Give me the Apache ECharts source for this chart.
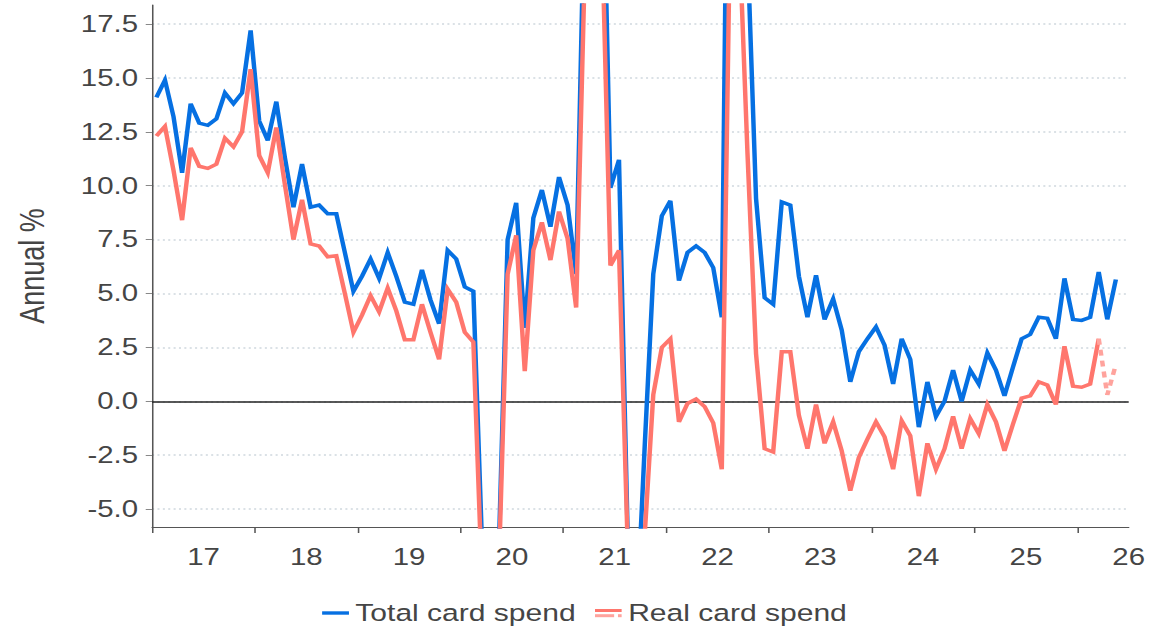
<!DOCTYPE html>
<html>
<head>
<meta charset="utf-8">
<script src="https://cdn.jsdelivr.net/npm/echarts@6/dist/echarts.min.js"></script>
<style>
  html, body { margin: 0; padding: 0; background: #ffffff; overflow: hidden; }
  #chart { width: 920px; height: 632px; transform: scaleX(1.27826); transform-origin: 0 0; }
</style>
</head>
<body>
<div id="chart"></div>
<script>
// Monthly data, first point = January 2017 (month index 0)
const yearLabels = ['17', '18', '19', '20', '21', '22', '23', '24', '25', '26'];
const yTickValues = [-5, -2.5, 0, 2.5, 5, 7.5, 10, 12.5, 15, 17.5];

const totalCardSpend = [
  14.1, 14.9, 13.2, 10.6, 13.8, 12.9, 12.8, 13.1, 14.3, 13.8, 14.3, 17.2,
  13.0, 12.1, 13.9, 11.3, 9.0, 11.0, 9.0, 9.1, 8.7, 8.7, 6.9, 5.1,
  5.8, 6.6, 5.7, 6.9, 5.8, 4.6, 4.5, 6.1, 4.7, 3.6, 7.0, 6.6,
  5.3, 5.1, -6.5, -20.0, -6.5, 7.5, 9.2, 3.4, 8.5, 9.8, 8.1, 10.4,
  9.1, 5.9, 24.0, 40.0, 28.0, 9.9, 11.2, -6.0, -10.6, -2.1, 5.9, 8.6,
  9.3, 5.6, 6.9, 7.2, 6.9, 6.2, 3.9, 40.0, 35.0, 21.0, 9.4, 4.8,
  4.5, 9.25, 9.1, 5.8, 3.9, 5.85, 3.8, 4.75, 3.3, 0.9, 2.3, 2.9,
  3.45, 2.6, 0.8, 2.9, 1.95, -1.2, 0.9, -0.7, 0.0, 1.45, 0.0, 1.45,
  0.8, 2.25, 1.45, 0.25, 1.6, 2.9, 3.1, 3.9, 3.85, 2.9, 5.7, 3.8,
  3.75, 3.9, 6.0, 3.8, 5.65
];

const realCardSpend = [
  12.3, 12.75, 10.7, 8.4, 11.75, 10.9, 10.8, 11.0, 12.2, 11.8, 12.5, 15.4,
  11.4, 10.6, 12.7, 10.05, 7.5, 9.35, 7.3, 7.2, 6.7, 6.75, 5.0, 3.2,
  4.0, 4.9, 4.15, 5.25, 4.2, 2.85, 2.85, 4.5, 3.2, 1.95, 5.2, 4.6,
  3.2, 2.75, -8.3, -20.0, -7.4, 5.9, 7.7, 1.4, 7.0, 8.3, 6.55, 8.8,
  7.55, 4.35, 20.0, 35.0, 22.0, 6.3, 7.0, -6.5, -12.0, -6.2, 0.3, 2.5,
  2.9, -0.95, -0.1, 0.1, -0.25, -1.0, -3.15, 23.0, 22.0, 11.5, 2.2, -2.2,
  -2.35, 2.3, 2.3, -0.65, -2.2, -0.15, -1.95, -0.95, -2.3, -4.15, -2.6, -1.75,
  -0.95, -1.65, -3.15, -0.9, -1.6, -4.4, -1.95, -3.15, -2.2, -0.7, -2.2, -0.8,
  -1.5, -0.15, -0.95, -2.3, -1.05, 0.15, 0.25, 0.9, 0.75, -0.15, 2.55, 0.7,
  0.65, 0.8, 2.9
];

// Preliminary (dashed) real card spend, starting at the last solid month
const realCardSpendPrelimStart = 110;
const realCardSpendPrelim = [2.9, 0.3, 1.7];

const BLUE = '#0670E2';
const RED = '#FF766D';
const RED_LIGHT = '#FFA39D';
const TEXT = '#454545';

function toPoints(arr, start) {
  return arr.map((v, i) => [start + i + 0.5, v]);
}

const blueIcon = 'image://data:image/svg+xml;utf8,' + encodeURIComponent(
  '<svg xmlns="http://www.w3.org/2000/svg" width="21" height="10" viewBox="0 0 21 10">' +
  '<rect x="0" y="3.3" width="21" height="3.4" fill="' + BLUE + '"/></svg>');
const redIcon = 'image://data:image/svg+xml;utf8,' + encodeURIComponent(
  '<svg xmlns="http://www.w3.org/2000/svg" width="21" height="10" viewBox="0 0 21 10">' +
  '<rect x="0" y="1" width="21" height="3" fill="' + RED + '"/>' +
  '<rect x="0" y="6.2" width="15" height="3" fill="' + RED_LIGHT + '"/>' +
  '<rect x="18" y="6.2" width="3" height="3" fill="' + RED_LIGHT + '"/></svg>');

const chart = echarts.init(document.getElementById('chart'), null, { renderer: 'svg' });

const option = {
  animation: false,
  backgroundColor: '#ffffff',
  textStyle: { fontFamily: '"Liberation Sans", Arial, sans-serif' },
  grid: { left: 119, right: 37, top: 5, bottom: 105, containLabel: false },
  legend: {
    bottom: 2,
    left: 247,
    itemWidth: 21,
    itemHeight: 10,
    itemGap: 15,
    textStyle: { fontSize: 23.5, color: TEXT, fontFamily: '"Liberation Sans", Arial, sans-serif' },
    data: [
      { name: 'Total card spend', icon: blueIcon },
      { name: 'Real card spend', icon: redIcon }
    ]
  },
  xAxis: {
    type: 'value',
    min: 0,
    max: 114,
    axisLine: { show: true, onZero: false, lineStyle: { color: '#555', width: 1.2 } },
    axisTick: {
      show: true, length: 6, inside: false,
      customValues: yearLabels.map((_, k) => k * 12),
      lineStyle: { color: '#555', width: 1.2 }
    },
    axisLabel: {
      customValues: yearLabels.map((_, k) => k * 12 + 6),
      formatter: (v) => yearLabels[Math.round((v - 6) / 12)],
      fontSize: 23, color: TEXT, margin: 19
    },
    splitLine: { show: false }
  },
  yAxis: {
    type: 'value',
    min: -5.83,
    max: 18.38,
    name: 'Annual %',
    nameLocation: 'middle',
    nameGap: 80,
    nameTextStyle: { fontSize: 27, color: TEXT },
    axisLine: { show: true, lineStyle: { color: '#555', width: 1.2 } },
    axisTick: {
      show: true, length: 5, inside: false,
      customValues: yTickValues,
      lineStyle: { color: '#888', width: 1 }
    },
    axisLabel: {
      customValues: yTickValues,
      formatter: (v) => v.toFixed(1),
      fontSize: 23, color: TEXT, margin: 11
    },
    splitLine: { show: true, lineStyle: { color: '#cfd8de', width: 1.5, type: [1.6, 2.6] } }
  },
  series: [
    {
      name: 'Total card spend',
      type: 'line',
      data: toPoints(totalCardSpend, 0),
      showSymbol: false,
      symbol: 'none',
      clip: true,
      z: 3,
      lineStyle: { color: BLUE, width: 3.5, join: 'miter' },
      itemStyle: { color: BLUE },
      markLine: {
        silent: true,
        symbol: 'none',
        z: 1,
        label: { show: false },
        lineStyle: { color: '#222', width: 1.5, type: 'solid' },
        data: [{ yAxis: 0 }]
      }
    },
    {
      name: 'Real card spend',
      type: 'line',
      data: toPoints(realCardSpend, 0),
      showSymbol: false,
      symbol: 'none',
      clip: true,
      z: 4,
      lineStyle: { color: RED, width: 3.5, join: 'miter' },
      itemStyle: { color: RED }
    },
    {
      name: 'Real card spend',
      type: 'line',
      data: toPoints(realCardSpendPrelim, realCardSpendPrelimStart),
      showSymbol: false,
      symbol: 'none',
      clip: true,
      z: 4,
      lineStyle: { color: RED_LIGHT, width: 3.5, type: [6, 5] },
      itemStyle: { color: RED_LIGHT }
    }
  ]
};

chart.setOption(option);
</script>
</body>
</html>
